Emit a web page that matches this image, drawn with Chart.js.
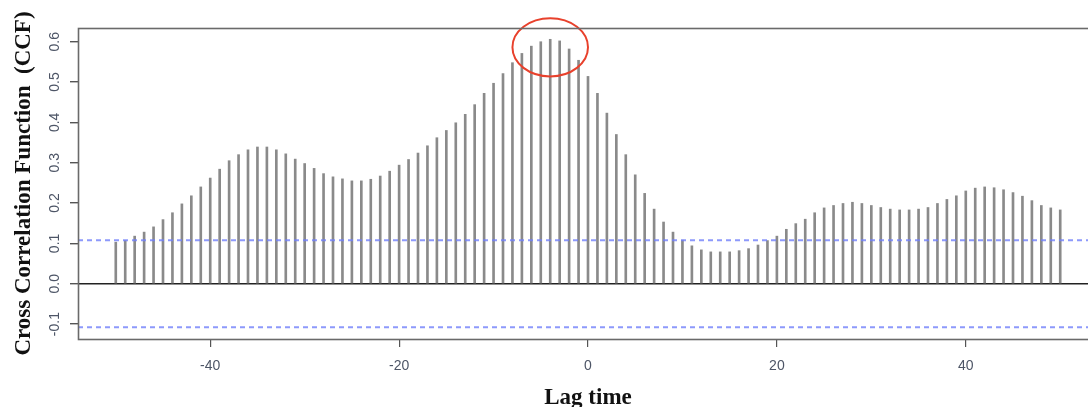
<!DOCTYPE html>
<html>
<head>
<meta charset="utf-8">
<script src="https://cdn.jsdelivr.net/npm/chart.js@4/dist/chart.umd.min.js"></script>
<style>
  html, body { margin: 0; padding: 0; background: #fff; overflow: hidden; }
  #wrap { width: 1099px; height: 407px; position: relative; }
</style>
</head>
<body>
<div id="wrap"><canvas id="chart"></canvas></div>
<script>
// lags of the cross correlation
const lags = [
  -50, -49, -48, -47, -46, -45, -44, -43, -42, -41,
  -40, -39, -38, -37, -36, -35, -34, -33, -32, -31,
  -30, -29, -28, -27, -26, -25, -24, -23, -22, -21,
  -20, -19, -18, -17, -16, -15, -14, -13, -12, -11,
  -10, -9, -8, -7, -6, -5, -4, -3, -2, -1,
  0, 1, 2, 3, 4, 5, 6, 7, 8, 9,
  10, 11, 12, 13, 14, 15, 16, 17, 18, 19,
  20, 21, 22, 23, 24, 25, 26, 27, 28, 29,
  30, 31, 32, 33, 34, 35, 36, 37, 38, 39,
  40, 41, 42, 43, 44, 45, 46, 47, 48, 49, 50
];
// CCF value at each lag
const ccf = [
  0.103, 0.107, 0.118, 0.128, 0.141, 0.159, 0.176, 0.198, 0.218, 0.240,
  0.262, 0.284, 0.305, 0.320, 0.332, 0.339, 0.339, 0.332, 0.322, 0.309,
  0.298, 0.286, 0.273, 0.265, 0.260, 0.255, 0.255, 0.259, 0.267, 0.279,
  0.294, 0.308, 0.324, 0.342, 0.362, 0.380, 0.399, 0.420, 0.444, 0.472,
  0.497, 0.521, 0.548, 0.571, 0.589, 0.600, 0.606, 0.602, 0.582, 0.554,
  0.514, 0.472, 0.423, 0.370, 0.320, 0.270, 0.224, 0.185, 0.153, 0.128,
  0.108, 0.094, 0.084, 0.079, 0.079, 0.079, 0.082, 0.087, 0.096, 0.107,
  0.118, 0.135, 0.149, 0.160, 0.176, 0.188, 0.194, 0.199, 0.202, 0.199,
  0.194, 0.189, 0.185, 0.183, 0.183, 0.185, 0.189, 0.199, 0.209, 0.218,
  0.230, 0.237, 0.240, 0.238, 0.233, 0.226, 0.217, 0.206, 0.194, 0.188, 0.183
];
// confidence bounds (dashed blue)
const ciLevels = [0.108, -0.108];
// tick labels
const xTicks = [-40, -20, 0, 20, 40];
const yTicks = [-0.1, 0.0, 0.1, 0.2, 0.3, 0.4, 0.5, 0.6];
const xRange = [-54, 54];
const yRange = [-0.137, 0.634];

const bars = lags.map((l, i) => ({ x: l, y: ccf[i] }));
const ciSets = ciLevels.map(v => ({
  type: 'line',
  data: [{ x: xRange[0], y: v }, { x: xRange[1], y: v }],
  borderColor: 'rgba(112,128,250,0.8)',
  borderWidth: 2,
  borderDash: [5, 4],
  pointRadius: 0,
  order: 0
}));

// box around the plot region
const frame = {
  id: 'frame',
  afterDraw(chart) {
    const { ctx, chartArea: a } = chart;
    ctx.save();
    ctx.strokeStyle = '#6a6a6a';
    ctx.lineWidth = 1.6;
    ctx.strokeRect(a.left + 0.5, a.top + 0.5, a.right - a.left, a.bottom - a.top);
    ctx.restore();
  }
};

// red ring round the highest lag
const ring = {
  id: 'ring',
  afterDatasetsDraw(chart) {
    const { ctx, scales: { x, y } } = chart;
    let k = 0;
    ccf.forEach((v, i) => { if (v > ccf[k]) k = i; });
    const cx = x.getPixelForValue(lags[k]);
    const cy = y.getPixelForValue(ccf[k] - 0.02);
    const rx = x.getPixelForValue(lags[k] + 4) - cx;
    const ry = y.getPixelForValue(0) - y.getPixelForValue(0.072);
    ctx.save();
    ctx.strokeStyle = '#e8412c';
    ctx.lineWidth = 2;
    ctx.beginPath();
    ctx.ellipse(cx, cy, rx, ry, 0, 0, Math.PI * 2);
    ctx.stroke();
    ctx.restore();
  }
};

Chart.defaults.font.family = "'Liberation Sans', Arial, sans-serif";
Chart.defaults.animation = false;

new Chart(document.getElementById('chart'), {
  type: 'bar',
  data: {
    datasets: [
      {
        data: bars,
        backgroundColor: '#8a8a8a',
        barThickness: 2,
        order: 1
      },
      ...ciSets
    ]
  },
  options: {
    responsive: true,
    maintainAspectRatio: false,
    layout: { padding: { top: 28, right: 1, left: 0, bottom: 0 } },
    plugins: { legend: { display: false }, tooltip: { enabled: false } },
    scales: {
      x: {
        type: 'linear',
        min: xRange[0],
        max: xRange[1],
        offset: false,
        afterBuildTicks: s => { s.ticks = xTicks.map(v => ({ value: v })); },
        afterFit: s => { s.height = 68; },
        border: { display: false },
        grid: { offset: false, drawOnChartArea: false, tickColor: '#555', tickLength: 8, lineWidth: 1.2 },
        ticks: {
          color: '#4d5566',
          font: { size: 14 },
          padding: 11,
          maxRotation: 0,
          callback: v => String(v)
        },
        title: {
          display: true,
          text: 'Lag time',
          color: '#111',
          font: { family: "'Liberation Serif', 'Times New Roman', serif", size: 23, weight: 'bold', lineHeight: 1 },
          padding: { top: 0, bottom: -3 }
        }
      },
      y: {
        min: yRange[0],
        max: yRange[1],
        afterBuildTicks: s => { s.ticks = yTicks.map(v => ({ value: v })); },
        afterFit: s => { s.width = 78; },
        border: { display: false },
        grid: {
          color: c => (c.tick && c.tick.value === 0 ? '#222' : 'rgba(0,0,0,0)'),
          lineWidth: 1.4,
          tickColor: '#555',
          tickLength: 8
        },
        ticks: {
          color: '#4d5566',
          font: { size: 14 },
          padding: 3,
          minRotation: 90,
          maxRotation: 90,
          crossAlign: 'center',
          callback: v => v.toFixed(1)
        },
        title: {
          display: true,
          text: 'Cross Correlation Function  (CCF)',
          color: '#111',
          font: { family: "'Liberation Serif', 'Times New Roman', serif", size: 23, weight: 'bold', lineHeight: 1 },
          padding: { top: 13, bottom: 0 }
        }
      }
    }
  },
  plugins: [frame, ring]
});
</script>
</body>
</html>
